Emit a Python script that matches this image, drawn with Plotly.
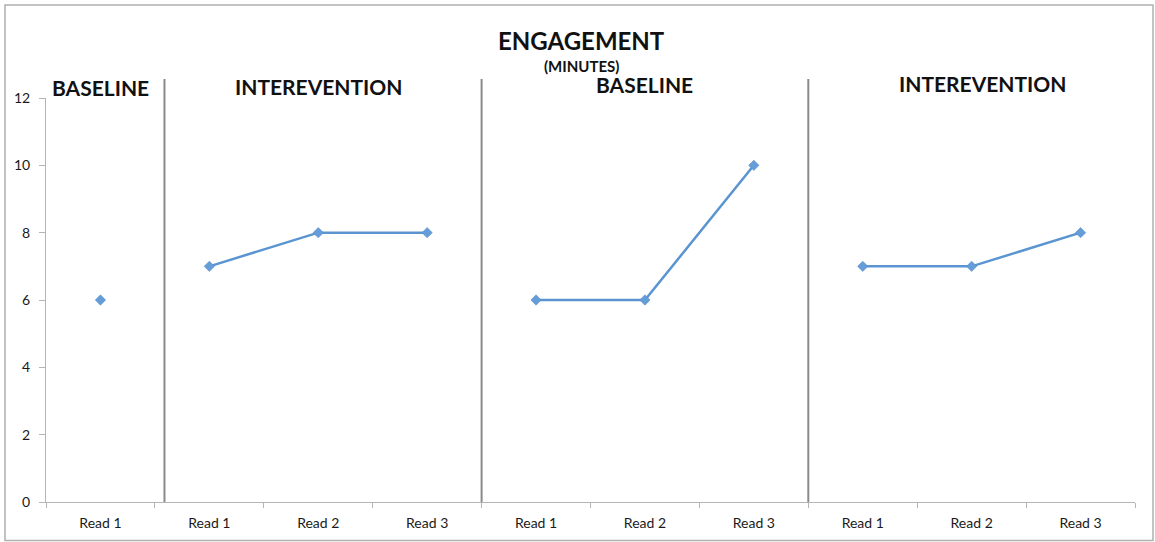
import plotly.graph_objects as go

# ---- data ----
labels = ["Read 1", "Read 1", "Read 2", "Read 3", "Read 1", "Read 2", "Read 3", "Read 1", "Read 2", "Read 3"]
values = [6, 7, 8, 8, 6, 6, 10, 7, 7, 8]
phase_names = ["BASELINE", "INTEREVENTION", "BASELINE", "INTEREVENTION"]
phase_sizes = [1, 3, 3, 3]
y_ticks = [0, 2, 4, 6, 8, 10, 12]
title_text = "ENGAGEMENT"
subtitle_text = "(MINUTES)"

LINE = "#5A95D1"
MARK = "#649DD8"
AX = "#B5B5B5"
SEP = "#8A8A8A"
FONT = "Lato"

fig = go.Figure()

start = 0
for name, size in zip(phase_names, phase_sizes):
    idx = list(range(start, start + size))
    fig.add_trace(go.Scatter(
        x=idx, y=[values[i] for i in idx], mode="lines+markers",
        line=dict(color=LINE, width=2.5),
        marker=dict(symbol="diamond", size=8, color=MARK, line=dict(color="#5088C4", width=0.5)),
        name=name, showlegend=False, hoverinfo="y"))
    start += size

n = len(labels)

# phase separators
sep_x = [0.588, 3.5, 6.5]
for sx in sep_x:
    fig.add_shape(type="line", xref="x", yref="paper", x0=sx, x1=sx, y0=0, y1=1.047,
                  line=dict(color=SEP, width=2))

# outer border
fig.add_shape(type="rect", xref="paper", yref="paper",
              x0=(5 - 46) / 1089, x1=(1153 - 46) / 1089,
              y0=(502 - 540.5) / 404, y1=(502 - 5) / 404,
              line=dict(color="#B0B0B0", width=1.5), layer="below")

# phase labels
label_x = [0.0, 2.0, 5.0, 8.1]
label_ypx = [88, 86.5, 85, 83.5]
for name, lx, ly in zip(phase_names, label_x, label_ypx):
    fig.add_annotation(text="<b>%s</b>" % name, x=lx, xref="x", y=(502 - ly) / 404, yref="paper",
                       showarrow=False, xanchor="center", yanchor="middle",
                       font=dict(family=FONT, size=21, color="#111"))

# title
fig.add_annotation(text="<b>%s</b>" % title_text, x=(581 - 46) / 1089, xref="paper",
                   y=(502 - 40) / 404, yref="paper", showarrow=False,
                   xanchor="center", yanchor="middle", font=dict(family=FONT, size=24, color="#111"))
fig.add_annotation(text="<b>%s</b>" % subtitle_text, x=(581 - 46) / 1089, xref="paper",
                   y=(502 - 65.5) / 404, yref="paper", showarrow=False,
                   xanchor="center", yanchor="middle", font=dict(family=FONT, size=15, color="#111"))

fig.update_layout(
    width=1155, height=542,
    margin=dict(l=46, r=20, t=98, b=40),
    paper_bgcolor="white", plot_bgcolor="white",
    font=dict(family=FONT, size=14, color="#1a1a1a"),
    xaxis=dict(range=[-0.5, n - 0.5], tickmode="array", tickvals=list(range(n)), ticktext=labels,
               ticks="", showline=True, linecolor=AX, linewidth=1, showgrid=False, zeroline=False,
               ticklabelstandoff=8,
               minor=dict(tickmode="array", tickvals=[i - 0.5 for i in range(n + 1)],
                          ticks="outside", ticklen=5, tickcolor=AX, tickwidth=1, showgrid=False)),
    yaxis=dict(range=[0, 12], tickmode="array", tickvals=y_ticks, ticks="outside", ticklen=6,
               tickcolor=AX, showline=True, linecolor=AX, linewidth=1, showgrid=False,
               zeroline=False, ticklabelstandoff=6),
)

fig.write_html("out.html")
